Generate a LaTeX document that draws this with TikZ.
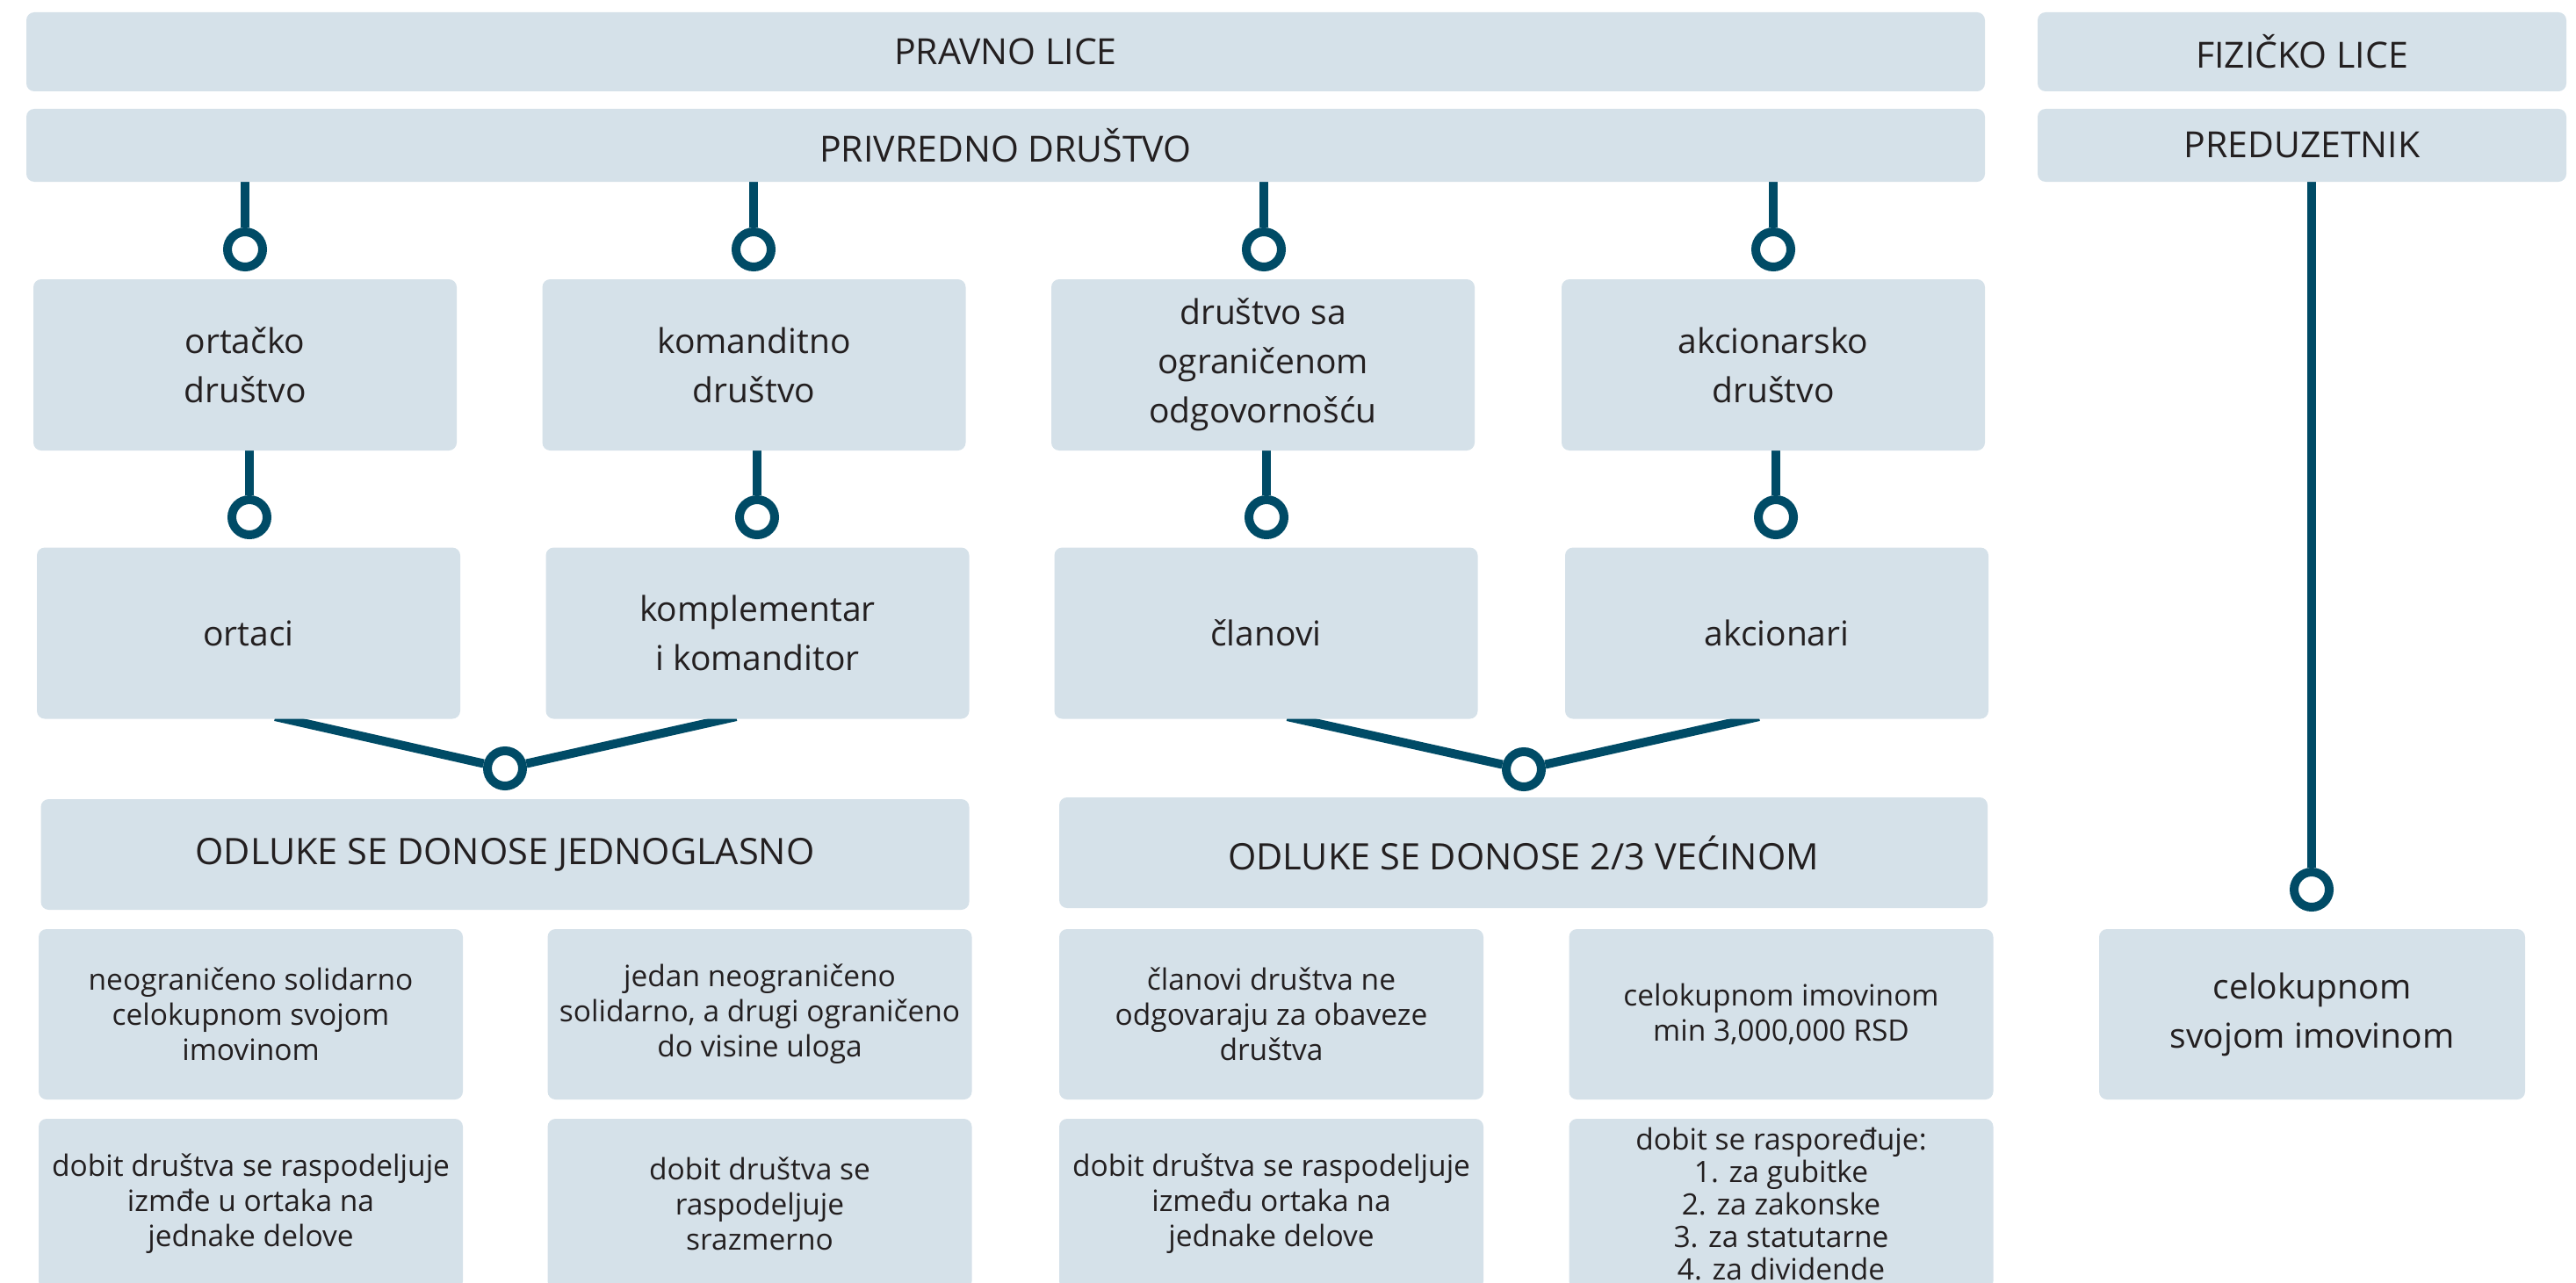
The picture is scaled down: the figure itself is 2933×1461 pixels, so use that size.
\documentclass[tikz,border=0pt]{standalone}
\usepackage{fontspec}
\setmainfont{Open Sans}
\usetikzlibrary{calc}
\definecolor{boxc}{HTML}{D5E1E9}
\definecolor{linec}{HTML}{004B66}
\definecolor{txt}{HTML}{231F20}
\pgfdeclarelayer{back}
\pgfsetlayers{back,main}
\begin{document}
\begin{tikzpicture}[x=1pt,y=-1pt,
  box/.style={fill=boxc, draw=none, rounded corners=9pt, inner sep=0pt, align=center, text=txt},
  hdr/.style={box, font=\fontsize{41}{50}\selectfont},
  mid/.style={box, font=\fontsize{39}{56}\selectfont, minimum width=482pt, minimum height=195pt},
  odl/.style={box, font=\fontsize{41.5}{50}\selectfont, minimum width=1057pt, minimum height=126pt},
  small/.style={box, font=\fontsize{33.5}{40}\selectfont, minimum width=483pt, minimum height=194pt},
  ring/.style={circle, draw=linec, line width=10pt, fill=white, minimum size=40pt, inner sep=0pt},
  conn/.style={draw=linec, line width=10pt}]
\useasboundingbox (0,0) rectangle (2933,1461);

% headers
\node[hdr, minimum width=2230pt, minimum height=90pt] (pl) at (1145,59) {PRAVNO LICE};
\node[hdr, minimum width=602pt, minimum height=90pt] (fl) at (2621,59) {FIZIČKO LICE};
\node[hdr, minimum width=2230pt, minimum height=83pt] (pd) at (1145,165.5) {PRIVREDNO DRUŠTVO};
\node[hdr, minimum width=602pt, minimum height=83pt] (pr) at (2621,165.5) {PREDUZETNIK};

% row C
\node[mid] (c1) at (279,415.5) {ortačko\\društvo};
\node[mid] (c2) at (858.5,415.5) {komanditno\\društvo};
\node[mid] (c3) at (1438,415.5) {društvo sa\\ograničenom\\odgovornošću};
\node[mid] (c4) at (2019,415.5) {akcionarsko\\društvo};

% row D
\node[mid] (d1) at (283,721) {ortaci};
\node[mid] (d2) at (862.5,721) {komplementar\\i komanditor};
\node[mid] (d3) at (1441.5,721) {članovi};
\node[mid] (d4) at (2023,721) {akcionari};

% row E
\node[odl] (e1) at (575,973) {ODLUKE SE DONOSE JEDNOGLASNO};
\node[odl] (e2) at (1734.5,971) {ODLUKE SE DONOSE 2/3 VEĆINOM};

% row F
\node[small] (f1) at (285.5,1155) {neograničeno solidarno\\celokupnom svojom\\imovinom};
\node[small] (f2) at (865,1155) {jedan neograničeno\\solidarno, a drugi ograničeno\\do visine uloga};
\node[small] (f3) at (1447.5,1155) {članovi društva ne\\odgovaraju za obaveze\\društva};
\node[small] (f4) at (2028,1155) {celokupnom imovinom\\min 3,000,000 RSD};
\node[small, minimum width=485pt, font=\fontsize{39}{56}\selectfont] (f5) at (2632.5,1155) {celokupnom\\svojom imovinom};

% row G
\node[small] (g1) at (285.5,1371) {dobit društva se raspodeljuje\\izmđe u ortaka na\\jednake delove};
\node[small] (g2) at (865,1371) {dobit društva se\\raspodeljuje\\srazmerno};
\node[small] (g3) at (1447.5,1371) {dobit društva se raspodeljuje\\između ortaka na\\jednake delove};
\node[small, font=\fontsize{33.5}{37}\selectfont] (g4) at (2028,1371) {dobit se raspoređuje:\\1. za gubitke\\2. za zakonske\\3. za statutarne\\4. za dividende};

% rings
\node[ring] (r1) at (279,284) {};
\node[ring] (r2) at (858,284) {};
\node[ring] (r3) at (1439,284) {};
\node[ring] (r4) at (2019,284) {};
\node[ring] (r5) at (284,589) {};
\node[ring] (r6) at (862,589) {};
\node[ring] (r7) at (1442,589) {};
\node[ring] (r8) at (2022,589) {};
\node[ring] (r9) at (575,875) {};
\node[ring] (r10) at (1735,876) {};
\node[ring] (r11) at (2632,1013) {};

\begin{pgfonlayer}{back}
\draw[conn] (pd.south -| r1) -- (r1);
\draw[conn] (pd.south -| r2) -- (r2);
\draw[conn] (pd.south -| r3) -- (r3);
\draw[conn] (pd.south -| r4) -- (r4);
\draw[conn] (c1.south -| r5) -- (r5);
\draw[conn] (c2.south -| r6) -- (r6);
\draw[conn] (c3.south -| r7) -- (r7);
\draw[conn] (c4.south -| r8) -- (r8);
\draw[conn, shorten <=-12pt] ($(d1.south)+(42,0)$) -- (r9);
\draw[conn, shorten <=-12pt] ($(d2.south)+(-36,0)$) -- (r9);
\draw[conn, shorten <=-12pt] ($(d3.south)+(36,0)$) -- (r10);
\draw[conn, shorten <=-12pt] ($(d4.south)+(-32,0)$) -- (r10);
\draw[conn] (pr.south -| r11) -- (r11);
\end{pgfonlayer}
\end{tikzpicture}
\end{document}
